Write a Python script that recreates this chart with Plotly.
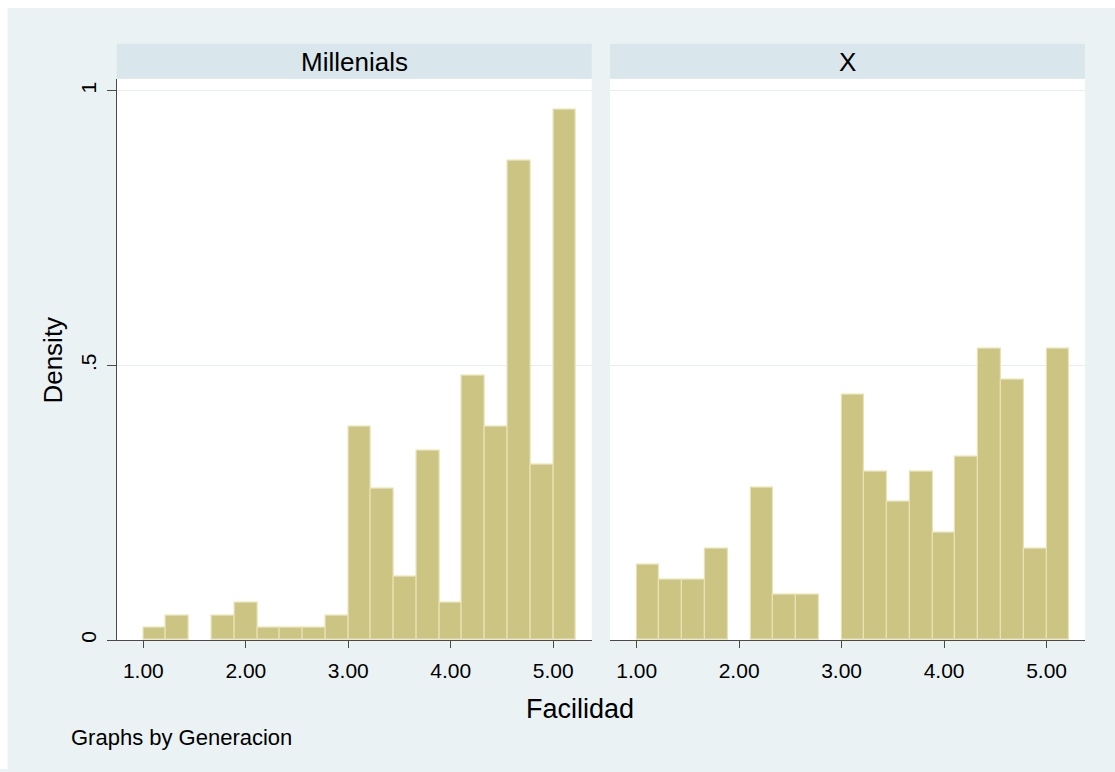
import plotly.graph_objects as go

# ---- data ----
panels = ["Millenials", "X"]
bin_start = 1.0
bin_width = 2 / 9
density_millenials = [0.023, 0.045, None, 0.045, 0.068, 0.023, 0.023, 0.023, 0.045,
                      0.389, 0.275, 0.115, 0.344, 0.068, 0.482, 0.389, 0.873, 0.320, 0.965]
density_x = [0.138, 0.110, 0.110, 0.167, None, 0.278, 0.083, 0.083, None,
             0.446, 0.306, 0.251, 0.306, 0.195, 0.334, 0.531, 0.474, 0.167, 0.531]
x_ticks = [1, 2, 3, 4, 5]
y_ticks = [0, 0.5, 1]
y_ticktext = ["0", ".5", "1"]

W, H = 1115, 772
BG = "#EAF2F3"
HEADER = "#D9E6EB"
BAR = "rgb(204,196,130)"
BAR_LINE = "rgb(232,226,180)"
AXIS = "#4a4a4a"
FONT = "Liberation Sans, Arial, sans-serif"


def px_x(v):
    return v / W


def px_y(v):
    return 1 - v / H


centers = [bin_start + bin_width * (i + 0.5) for i in range(len(density_millenials))]

fig = go.Figure()
for i, dens in enumerate([density_millenials, density_x]):
    fig.add_trace(go.Bar(
        x=centers, y=dens, width=bin_width,
        marker=dict(color=BAR, line=dict(color=BAR_LINE, width=1.2)),
        xaxis="x" if i == 0 else "x2", yaxis="y" if i == 0 else "y2",
        showlegend=False, hoverinfo="x+y",
    ))

left_dom = [px_x(116.7), px_x(591.7)]
right_dom = [px_x(610), px_x(1085)]
y_dom = [px_y(642.5), px_y(79)]
xr = [0.74, 5.375]
yr = [0, 1.022]

xaxis_common = dict(
    range=xr, tickvals=x_ticks, tickformat=".2f", ticks="outside", ticklen=7,
    tickcolor=AXIS, tickwidth=1, showline=True, linecolor=AXIS, linewidth=1,
    showgrid=False, zeroline=False, ticklabelstandoff=5,
    tickfont=dict(family=FONT, size=21, color="black"),
)

fig.update_layout(
    width=W, height=H,
    margin=dict(l=0, r=0, t=0, b=0),
    paper_bgcolor=BG, plot_bgcolor="white",
    bargap=0,
    xaxis=dict(domain=left_dom, anchor="y", **xaxis_common),
    xaxis2=dict(domain=right_dom, anchor="y2", **xaxis_common),
    yaxis=dict(domain=y_dom, range=yr, anchor="x", tickvals=y_ticks, ticktext=y_ticktext,
               tickangle=-90, ticks="outside", ticklen=9, tickcolor=AXIS,
               showline=True, linecolor=AXIS, linewidth=1,
               showgrid=True, gridcolor="#E6EEF0", gridwidth=1, zeroline=False,
               ticklabelstandoff=2,
               tickfont=dict(family=FONT, size=21, color="black")),
    yaxis2=dict(domain=y_dom, range=yr, anchor="x2", matches="y", tickvals=y_ticks,
                showticklabels=False, ticks="", showline=False,
                showgrid=True, gridcolor="#E6EEF0", gridwidth=1, zeroline=False),
    font=dict(family=FONT, color="black"),
)

shapes = [
    # thin white outer border on the left and top
    dict(type="rect", xref="paper", yref="paper", x0=0, x1=px_x(7.5), y0=0, y1=1,
         fillcolor="white", line=dict(width=0), layer="above"),
    dict(type="rect", xref="paper", yref="paper", x0=0, x1=1, y0=px_y(8), y1=1,
         fillcolor="white", line=dict(width=0), layer="above"),
]
for dom in (left_dom, right_dom):
    shapes.append(dict(type="rect", xref="paper", yref="paper", x0=dom[0], x1=dom[1],
                       y0=px_y(79), y1=px_y(44), fillcolor=HEADER, line=dict(width=0),
                       layer="above"))
fig.update_layout(shapes=shapes)

annotations = []
for dom, name in zip((left_dom, right_dom), panels):
    annotations.append(dict(text=name, x=(dom[0] + dom[1]) / 2, y=px_y(62), xref="paper",
                            yref="paper", showarrow=False, xanchor="center", yanchor="middle",
                            font=dict(family=FONT, size=26, color="black")))
annotations.append(dict(text="Density", x=px_x(53), y=px_y(362), xref="paper", yref="paper",
                        showarrow=False, textangle=-90, xanchor="center", yanchor="middle",
                        font=dict(family=FONT, size=26, color="black")))
annotations.append(dict(text="Facilidad", x=px_x(580), y=px_y(712), xref="paper", yref="paper",
                        showarrow=False, xanchor="center", yanchor="middle",
                        font=dict(family=FONT, size=27, color="black")))
annotations.append(dict(text="Graphs by Generacion", x=px_x(69), y=px_y(740), xref="paper",
                        yref="paper", showarrow=False, xanchor="left", yanchor="middle",
                        font=dict(family=FONT, size=22, color="black")))
fig.update_layout(annotations=annotations)

fig.write_html(
    "out.html",
    config={"displayModeBar": False},
    post_script="document.body.style.margin='0px';"
                "document.documentElement.style.overflow='hidden';",
)
